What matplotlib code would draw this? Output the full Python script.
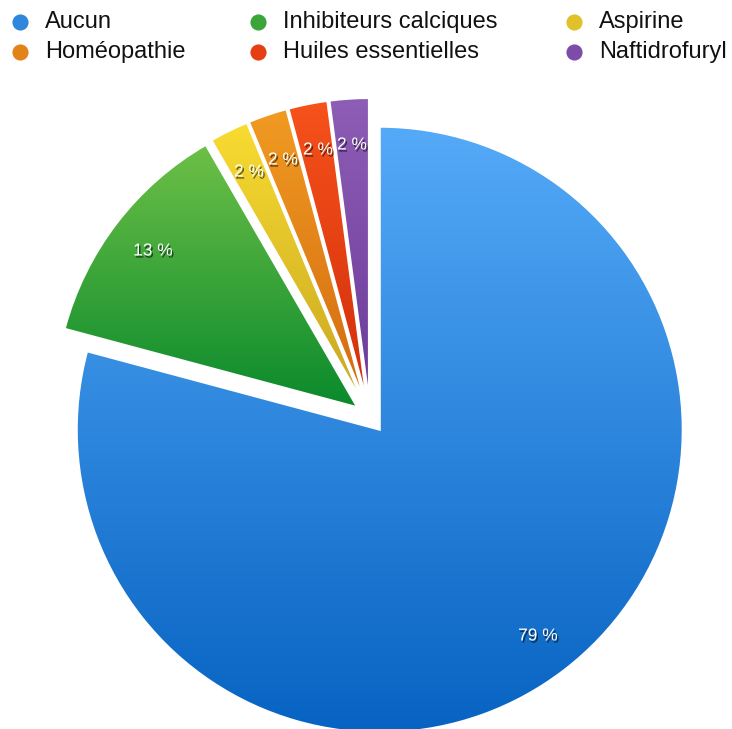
import numpy as np
import matplotlib.pyplot as plt
import matplotlib.patheffects as pe
from matplotlib.colors import LinearSegmentedColormap

plt.rcParams['font.family'] = ['Liberation Sans', 'DejaVu Sans']

labels = ['Aucun', 'Inhibiteurs calciques', 'Aspirine',
          'Homéopathie', 'Huiles essentielles', 'Naftidrofuryl']
counts = [38, 6, 1, 1, 1, 1]
pct_labels = ['79 %', '13 %', '2 %', '2 %', '2 %', '2 %']

# top / bottom colours of each wedge gradient
tops = ['#55aaf8', '#6ec047', '#f8dc30', '#f19b22', '#f6521b', '#8e5eb6']
bottoms = ['#0763c2', '#0a8a2c', '#c8a522', '#d36a10', '#d22e0c', '#6a3a99']

W, H = 732, 729
fig = plt.figure(figsize=(W / 100, H / 100), dpi=100)
ax = fig.add_axes([0, 0, 1, 1])

cx, cy, R = 370, H - 417, 303
explode = [16] * len(counts)  # pie() offsets in data units

wedges, _ = ax.pie(counts, center=(cx, cy), radius=R, startangle=90,
                   counterclock=False, explode=explode,
                   wedgeprops=dict(linewidth=0))

grad = np.linspace(1, 0, 256).reshape(-1, 1)
for w, t, b in zip(wedges, tops, bottoms):
    w.set_facecolor('none')
    ext = w.get_path().get_extents()
    cmap = LinearSegmentedColormap.from_list('g', [b, t])
    im = ax.imshow(grad, cmap=cmap, aspect='auto', origin='upper',
                   extent=(ext.x0, ext.x1, ext.y0, ext.y1), zorder=1)
    im.set_clip_path(w)
    # thin white edge between wedges
    w.set_edgecolor('white')
    w.set_linewidth(1.5)
    w.set_zorder(2)

ax.set_xlim(0, W)
ax.set_ylim(0, H)
ax.set_aspect('equal')
ax.axis('off')

# percentage labels
label_pos = [(538, 636), (153, 251), (249, 172), (283, 160), (318, 150), (352, 145)]
for (x, y), s in zip(label_pos, pct_labels):
    ax.text(x, H - y, s, color='white', fontsize=12.5, ha='center', va='center',
            zorder=5,
            path_effects=[pe.SimplePatchShadow(offset=(1, -1.5), shadow_rgbFace='black', alpha=0.6),
                          pe.Normal()])

# legend
leg_x = [20, 258, 574]
leg_y = [22, 52]
for i, (lab, t, b) in enumerate(zip(labels, tops, bottoms)):
    row, col = divmod(i, 3)
    x, y = leg_x[col], H - leg_y[row]
    ax.scatter([x], [y], s=135, color=LinearSegmentedColormap.from_list('m', [b, t])(0.5),
               zorder=5, linewidths=0)
    ax.text(x + 25, y, lab, fontsize=17, va='center', ha='left', color='#111111')

fig.savefig('out.png', dpi=100)
